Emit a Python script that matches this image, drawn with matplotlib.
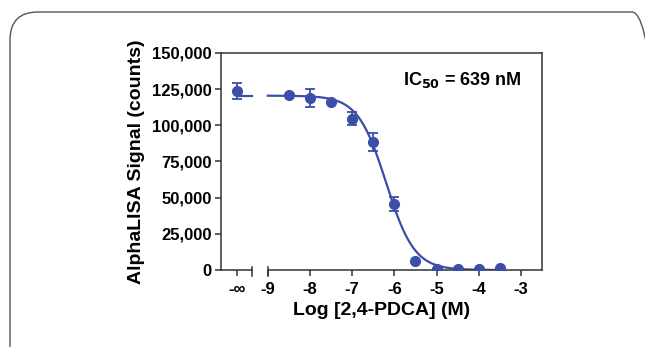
import numpy as np
import matplotlib.pyplot as plt
from matplotlib.patches import FancyBboxPatch
from matplotlib.ticker import FuncFormatter
import matplotlib.transforms as mtransforms

plt.rcParams["font.family"] = ["Liberation Sans", "DejaVu Sans"]
plt.rcParams["font.weight"] = "bold"

# data
log_conc = [-8.5, -8.0, -7.5, -7.0, -6.5, -6.0, -5.5, -5.0, -4.5, -4.0, -3.5]
signal = [121000, 118700, 116300, 104400, 88500, 45600, 6200, 500, 500, 500, 1200]
signal_err = [0, 6300, 0, 4500, 6200, 5000, 0, 0, 0, 0, 0]
zero_signal = 123700      # no-inhibitor control, plotted at -inf
zero_err = 5500

# 4PL fit
fit_top = 120500
fit_bottom = 0
ic50_nM = 639
hill = 1.3

blue = "#3b4ea8"
x_inf = -9.73     # where the "-inf" group sits on the axis
x_break = -9.38   # end of the left axis segment

fig = plt.figure(figsize=(6.45, 3.47), dpi=100)
ax = fig.add_axes([0.3426, 0.2219, 0.4977, 0.6254])

# rounded frame around the panel
frame = FancyBboxPatch((10, -40), 650, 375, boxstyle="round,pad=0,rounding_size=28",
                       transform=None, fill=False, edgecolor="#555555", linewidth=1.0)
fig.patches.append(frame)

# fitted curve
log_ic50 = np.log10(ic50_nM * 1e-9)
xc = np.linspace(-9, -3.5, 300)
yc = fit_bottom + (fit_top - fit_bottom) / (1 + 10 ** ((xc - log_ic50) * hill))
ax.plot(xc, yc, color=blue, lw=1.6, zorder=2)
ax.plot([x_inf, x_break], [fit_top, fit_top], color=blue, lw=1.6, zorder=2)

# points
ax.errorbar(log_conc, signal, yerr=signal_err, fmt="o", color=blue, ms=7,
            capsize=3.6, elinewidth=1.3, capthick=1.3, zorder=3)
ax.errorbar([x_inf], [zero_signal], yerr=[zero_err], fmt="o", color=blue, ms=7,
            capsize=3.6, elinewidth=1.3, capthick=1.3, zorder=3)

ax.set_xlim(-10.11, -2.5)
ax.set_ylim(0, 150000)
ax.set_yticks(np.arange(0, 150001, 25000))
ax.yaxis.set_major_formatter(FuncFormatter(lambda v, p: f"{int(v):,}"))
ax.set_xticks([x_inf, -9, -8, -7, -6, -5, -4, -3])
ax.set_xticklabels(["-\u221e", "-9", "-8", "-7", "-6", "-5", "-4", "-3"])

for s in ax.spines.values():
    s.set_linewidth(1.1)
    s.set_color("#333333")
ax.spines["bottom"].set_visible(False)
tr = mtransforms.blended_transform_factory(ax.transData, ax.transAxes)
ax.plot([-10.11, x_break], [0, 0], color="#333333", lw=1.1, transform=tr, clip_on=False)
ax.plot([-9, -2.5], [0, 0], color="#333333", lw=1.1, transform=tr, clip_on=False)
for xb in [x_break, -9]:
    ax.plot([xb, xb], [-0.028, 0.014], color="#333333", lw=1.1, transform=tr, clip_on=False)

ax.tick_params(axis="both", direction="out", length=4.5, width=1.1, color="#333333",
               labelsize=12, pad=2)
ax.tick_params(axis="x", pad=4)

ax.set_xlabel("Log [2,4-PDCA] (M)", fontsize=14, fontweight="bold", labelpad=4)
ax.set_ylabel("AlphaLISA Signal (counts)", fontsize=14, fontweight="bold", labelpad=5)

ax.text(0.935, 0.876, r"IC$_{\mathbf{50}}$ = 639 nM", transform=ax.transAxes,
        ha="right", va="center", fontsize=13, fontweight="bold")

fig.savefig("out.png", dpi=100)
